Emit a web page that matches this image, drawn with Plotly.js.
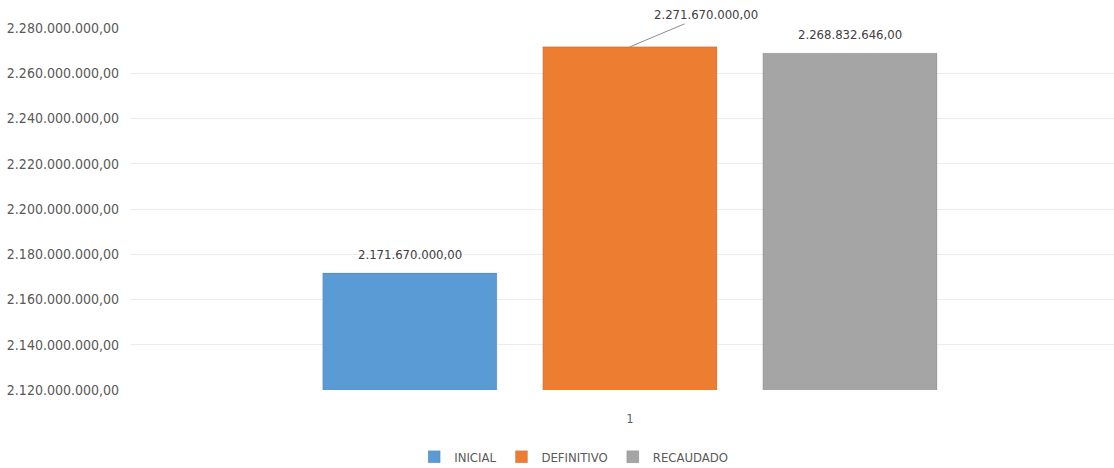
<!DOCTYPE html>
<html>
<head>
<meta charset="utf-8">
<script src="https://cdn.plot.ly/plotly-3.0.1.min.js"></script>
<style>html,body{margin:0;padding:0;background:#fff;}#chart{width:1114px;height:468px;}</style>
</head>
<body>
<div id="chart"></div>
<script>
var categories = ["1"];
var seriesNames = ["INICIAL", "DEFINITIVO", "RECAUDADO"];
var seriesColors = ["#5B9BD5", "#ED7D31", "#A5A5A5"];
var inicial = [2171670000];
var definitivo = [2271670000];
var recaudado = [2268832646];
var yTicks = [2120000000, 2140000000, 2160000000, 2180000000, 2200000000, 2220000000, 2240000000, 2260000000, 2280000000];

var FONT = "DejaVu Sans Condensed, Liberation Sans Narrow, sans-serif";
var values = [inicial, definitivo, recaudado];

function fmt(v) {
  var s = v.toFixed(2).split(".");
  return s[0].replace(/\B(?=(\d{3})+(?!\d))/g, ".") + "," + s[1];
}

var W = 1114, H = 468;
var margin = {l: 130, r: 0, t: 28, b: 78};
var bargap = 0.329;
var plotW = W - margin.l - margin.r;
var slotPx = plotW * (1 - bargap) / seriesNames.length;

var traces = seriesNames.map(function (name, i) {
  return {
    type: "bar",
    name: name,
    x: categories,
    y: values[i],
    marker: {color: seriesColors[i], line: {color: "rgba(0,0,0,0.12)", width: 1}},
    hoverinfo: "none"
  };
});

var annotations = [];
seriesNames.forEach(function (name, i) {
  values[i].forEach(function (v, j) {
    if (i === 1) {
      annotations.push({
        x: j, y: v, xref: "x", yref: "y",
        text: fmt(v),
        showarrow: true, arrowhead: 0, arrowwidth: 1, arrowcolor: "#8c8c8c",
        ax: 76, ay: -32,
        font: {family: FONT, size: 13, color: "#404040"}
      });
    } else {
      annotations.push({
        x: j, y: v, xref: "x", yref: "y",
        xshift: (i - 1) * slotPx,
        yshift: 9,
        yanchor: "bottom",
        text: fmt(v),
        showarrow: false,
        font: {family: FONT, size: 13, color: "#404040"}
      });
    }
  });
});

var layout = {
  width: W,
  height: H,
  margin: margin,
  paper_bgcolor: "#ffffff",
  plot_bgcolor: "#ffffff",
  separators: ",.",
  barmode: "group",
  bargap: bargap,
  bargroupgap: 0.209,
  showlegend: true,
  legend: {
    orientation: "h",
    xref: "container", yref: "container",
    x: 0.515, xanchor: "center",
    y: 0.024, yanchor: "middle",
    font: {family: FONT, size: 13, color: "#595959"},
    itemwidth: 30,
    traceorder: "normal"
  },
  xaxis: {
    type: "category",
    range: [-0.508, 0.492],
    showgrid: false,
    zeroline: false,
    showline: false,
    ticks: "",
    automargin: false,
    tickfont: {family: FONT, size: 12, color: "#595959"},
    ticklabelstandoff: 20
  },
  yaxis: {
    range: [2120000000, 2280000000],
    tickvals: yTicks,
    tickformat: ",.2f",
    showgrid: true,
    gridcolor: "#ececec",
    gridwidth: 1,
    zeroline: false,
    showline: false,
    ticks: "",
    automargin: false,
    tickfont: {family: FONT, size: 14, color: "#595959"},
    ticklabelstandoff: 10
  },
  annotations: annotations
};

Plotly.newPlot("chart", traces, layout, {displayModeBar: false, staticPlot: true});
</script>
</body>
</html>
